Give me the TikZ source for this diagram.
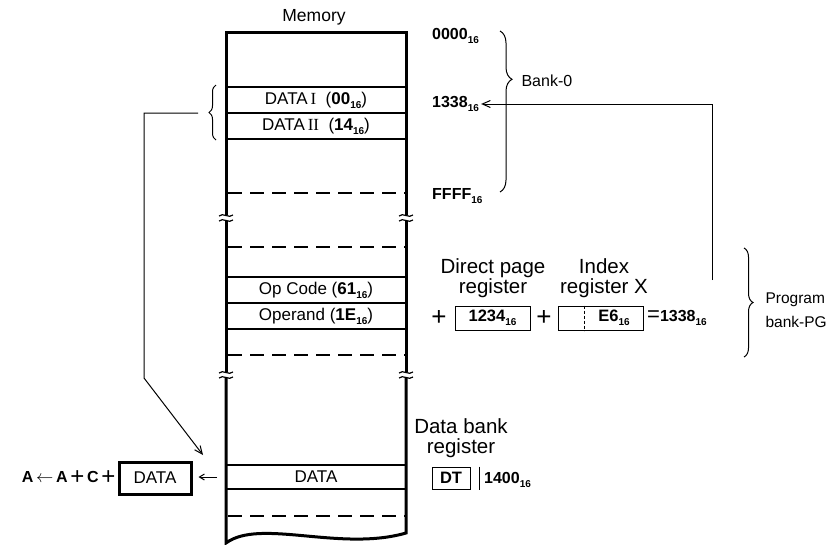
\documentclass[tikz,border=0pt]{standalone}
\usepackage{fontspec}
\setmainfont{Liberation Sans}
\newfontfamily\serifnum{Liberation Serif}
\usetikzlibrary{positioning,arrows.meta,decorations.pathreplacing,calc}
\newcommand{\hx}[1]{\textbf{#1}\raisebox{-0.45ex}{\fontsize{10}{10}\selectfont\bfseries 16}}
\newcommand{\rnum}[1]{{\serifnum #1}}
\newcommand{\bigplus}{\raisebox{-2pt}{\fontsize{24}{24}\selectfont +}}

\begin{document}
\begin{tikzpicture}[x=1pt,y=-1pt,
  cell/.style={font=\fontsize{17}{17}\selectfont},
  addr/.style={anchor=west,inner sep=2pt,font=\fontsize{16}{16}\selectfont},
  big/.style={align=center,font=\fontsize{20.5}{20.5}\selectfont},
  regbox/.style={draw,line width=1pt,minimum height=24pt,inner sep=0pt,font=\fontsize{16.5}{16.5}\selectfont},
  barb/.style={-{Straight Barb[length=8pt,width=7pt]},line width=1pt},
  edge/.style={line width=3pt}]
\useasboundingbox (0,0) rectangle (832,544);
% Memory column
\node[font=\fontsize{17.5}{17.5}\selectfont] (mem) at (314,17) {Memory};
\draw[edge,line join=miter] (226,215) -- (226,32) -- (406,32) -- (406,215);
\draw[edge] (226,221) -- (226,372) (406,221) -- (406,372);
\draw[edge] (406,378) -- (406,533) .. controls (340,552) and (260,518) .. (226,543) -- (226,378);
\foreach \x in {226,406}
  \foreach \y in {218,375} {
    \draw[line width=1.2pt] (\x-7,\y-2) .. controls (\x-3,\y-6) and (\x+3,\y+1) .. (\x+7,\y-3);
    \draw[line width=1.2pt] (\x-7,\y+3) .. controls (\x-3,\y-1) and (\x+3,\y+6) .. (\x+7,\y+2);
  }
\foreach \y in {87,113,139,277,303,329,465,489}
  \draw[line width=1.2pt] (226,\y) -- (406,\y);
\foreach \y in {193,247,355,516}
  \draw[line width=1.2pt,dash pattern=on 14pt off 8pt] (228,\y) -- (406,\y);
\node[cell] (dataone) at (316,100) {DATA\,\rnum{I}\ \ (\hx{00})};
\node[cell] (datatwo) at (316,126) {DATA\,\rnum{II}\ \ (\hx{14})};
\node[cell] (opcode) at (316,290) {Op Code\ (\hx{61})};
\node[cell] (operand) at (316,316) {Operand\ (\hx{1E})};
\node[cell] (datarow) at (316,477) {DATA};
% Bank-0 addresses
\node[addr] (a0000) at (430,36) {\hx{0000}};
\node[addr] (a1338) at (430,104) {\hx{1338}};
\node[addr] (affff) at (430,196) {\hx{FFFF}};
\draw[line width=1pt,decorate,decoration={brace,amplitude=12pt,aspect=0.3}] (500,31) -- (500,192);
\node[anchor=west,font=\fontsize{16}{16}\selectfont] (bank0) at (518,81) {Bank-0};
% Direct page + index register
\node[big] (dplabel) at (493,278) {Direct page\\register};
\node[big] (ixlabel) at (604,278) {Index\\register X};
\node[font=\fontsize{26}{26}\selectfont] (plusa) at (439,318) {+};
\node[regbox,minimum width=75pt] (dpreg) at (492.5,318) {\hx{1234}};
\node[font=\fontsize{26}{26}\selectfont] (plusb) at (544,318) {+};
\node[regbox,minimum width=85pt] (ixreg) at (600.5,318) {};
\draw[line width=0.8pt,dash pattern=on 3pt off 2pt] ($(ixreg.north west)+(27,0)$) -- ($(ixreg.south west)+(27,0)$);
\node[font=\fontsize{16.5}{16.5}\selectfont] (ixlow) at (614,318) {\hx{E6}};
\node[anchor=west,inner sep=1pt,font=\fontsize{16}{16}\selectfont] (sum) at (646,318) {{\fontsize{22}{22}\selectfont=}\hx{1338}};
\coordinate (sumtop) at (712,280);
\draw[barb] (sumtop) -- (sumtop |- a1338.east) -- (a1338.east);
\draw[line width=1pt,decorate,decoration={brace,amplitude=9pt}] (744,248) -- (744,357);
\node[anchor=west,align=left,font=\fontsize{15.5}{24}\selectfont] (progpg) at (762,310) {Program\\bank-PG};
% Data bank register
\node[big] (dblabel) at (461,438) {Data bank\\register};
\node[regbox,minimum width=38pt,minimum height=22pt] (dtbox) at (451,478) {\textbf{DT}};
\draw[line width=1pt] ($(dtbox.north east)+(9,0)$) -- ($(dtbox.south east)+(9,0)$);
\node[addr] (a1400) at (482,480) {\hx{1400}};
% DATA I/II -> accumulator
\draw[line width=1pt,decorate,decoration={brace,amplitude=7pt}] (216,140) -- (216,85);
\coordinate (lbtip) at (198,113);
\coordinate (lbend) at (144,378);
\coordinate (dataarr) at (203,455);
\draw[barb] (lbtip) -- (lbtip -| lbend) -- (lbend) -- (dataarr);
\node[draw,line width=3pt,minimum width=72pt,minimum height=32pt,font=\fontsize{17}{17}\selectfont] (databox) at (155,478) {DATA};
\coordinate (rowleft) at (226,477);
\draw[-{Straight Barb[length=5pt,width=6pt]},line width=1pt,shorten <=9pt,shorten >=6pt] (rowleft) -- (databox.east |- rowleft);
\node[anchor=east,inner sep=2pt,font=\fontsize{16}{16}\selectfont] (formula) at (databox.west) {\textbf{A}\,$\leftarrow$\,\textbf{A}\,\bigplus\,\textbf{C}\,\bigplus};
\end{tikzpicture}
\end{document}
